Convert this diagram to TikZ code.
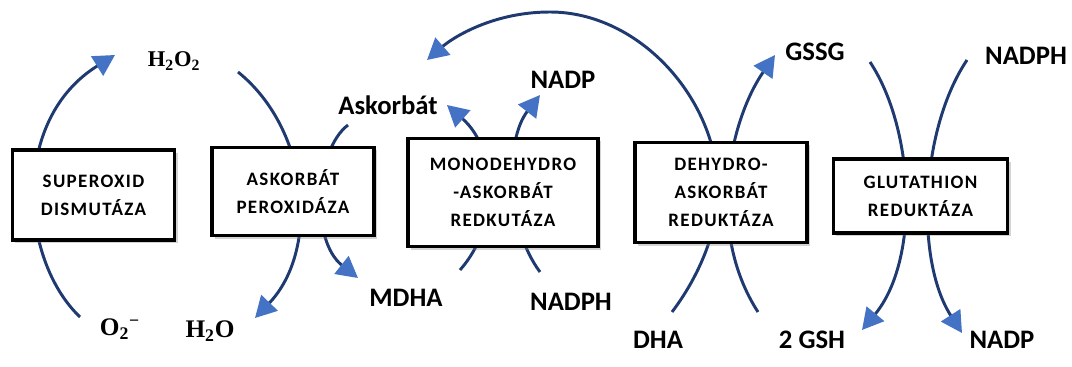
\documentclass[tikz,border=0pt]{standalone}
\usepackage{fontspec}
\setmainfont{Carlito}
\newfontfamily\boxfont{Carlito}[LetterSpace=7]
\newfontfamily\chemfont{Liberation Serif}
\usetikzlibrary{arrows.meta,shadows}
\definecolor{lineblue}{HTML}{1F3A70}
\definecolor{tipblue}{HTML}{4472C4}

\begin{document}
\begin{tikzpicture}[x=0.025cm,y=-0.025cm,
  >={Triangle[length=15pt,width=16pt,color=tipblue]},
  box/.style={draw,line width=2.2pt,fill=white,inner sep=0pt,align=center,
    font=\boxfont\bfseries\fontsize{13.5}{20}\selectfont,
    drop shadow={shadow xshift=2pt,shadow yshift=-2pt,opacity=.35}},
  lbl/.style={font=\bfseries\fontsize{19}{22}\selectfont},
  chem/.style={font=\chemfont\bfseries\fontsize{18}{21}\selectfont},
  flow/.style={->,draw=lineblue,line width=2.1pt}]
\useasboundingbox (0,0) rectangle (1072,367);

% free ends of the curves
\coordinate (sodIn) at (80,317);
\coordinate (sodOut) at (115,55);
\coordinate (apxIn) at (238,72);
\coordinate (apxOut) at (255,318);
\coordinate (ascIn) at (348,125);
\coordinate (mdhaOut) at (358,278);
\coordinate (mdhaIn) at (460,270);
\coordinate (ascOut) at (447,105);
\coordinate (nadphIn) at (540,272);
\coordinate (nadpOut) at (540,95);
\coordinate (dhaIn) at (672,312);
\coordinate (dharMid) at (718,190);
\coordinate (arcTop) at (550,12);
\coordinate (ascBack) at (427,60);
\coordinate (gshIn) at (758,312);
\coordinate (gssgOut) at (775,55);
\coordinate (gssgIn) at (870,62);
\coordinate (gshOut) at (862,330);
\coordinate (nadphRIn) at (967,60);
\coordinate (nadpROut) at (962,333);

% curves (boxes are drawn over them)
\draw[flow] (sodIn) .. controls (20,260) and (10,120) .. (sodOut);
\draw[flow] (apxIn) .. controls (310,130) and (320,250) .. (apxOut);
\draw[flow] (ascIn) .. controls (315,150) and (310,240) .. (mdhaOut);
\draw[flow] (mdhaIn) .. controls (500,225) and (498,150) .. (ascOut);
\draw[flow] (nadphIn) .. controls (505,225) and (505,140) .. (nadpOut);
\draw[flow] (dhaIn) .. controls (700,275) and (718,230) .. (dharMid)
  .. controls (718,100) and (640,12) .. (arcTop)
  .. controls (490,12) and (450,40) .. (ascBack);
\draw[flow] (gshIn) .. controls (705,230) and (730,120) .. (gssgOut);
\draw[flow] (gssgIn) .. controls (915,130) and (920,260) .. (gshOut);
\draw[flow] (nadphRIn) .. controls (920,130) and (915,260) .. (nadpROut);

% enzymes
\node[box,minimum width=4.07cm,minimum height=2.25cm] (sod) at (93.5,195) {SUPEROXID\\DISMUTÁZA};
\node[box,minimum width=4.05cm,minimum height=2.22cm] (apx) at (293,191.5) {ASKORBÁT\\PEROXIDÁZA};
\node[box,minimum width=4.75cm,minimum height=2.72cm] (mdhar) at (503,192.5) {MONODEHYDRO\\-ASKORBÁT\\REDKUTÁZA};
\node[box,minimum width=4.3cm,minimum height=2.52cm] (dhar) at (721,192.5) {DEHYDRO-\\ASKORBÁT\\REDUKTÁZA};
\node[box,minimum width=4.37cm,minimum height=1.85cm] (gr) at (920.5,196) {GLUTATHION\\REDUKTÁZA};

% substrates and products
\node[chem,font=\chemfont\bfseries\fontsize{16}{19}\selectfont] (h2o2) at (174,61) {H\textsubscript{2}O\textsubscript{2}};
\node[chem] (o2) at (120,329) {O\textsubscript{2}\textsuperscript{−}};
\node[chem] (h2o) at (210,331) {H\textsubscript{2}O};
\node[lbl] (asc) at (388,105) {Askorbát};
\node[lbl] (nadpA) at (563,80) {NADP};
\node[lbl] (mdha) at (406,298) {MDHA};
\node[lbl] (nadphA) at (571,302) {NADPH};
\node[lbl] (dha) at (658,340) {DHA};
\node[lbl] (gsh) at (812,340) {2 GSH};
\node[lbl] (nadpB) at (1002,340) {NADP};
\node[lbl] (gssg) at (815,52) {GSSG};
\node[lbl] (nadphB) at (1026,56) {NADPH};
\end{tikzpicture}
\end{document}
